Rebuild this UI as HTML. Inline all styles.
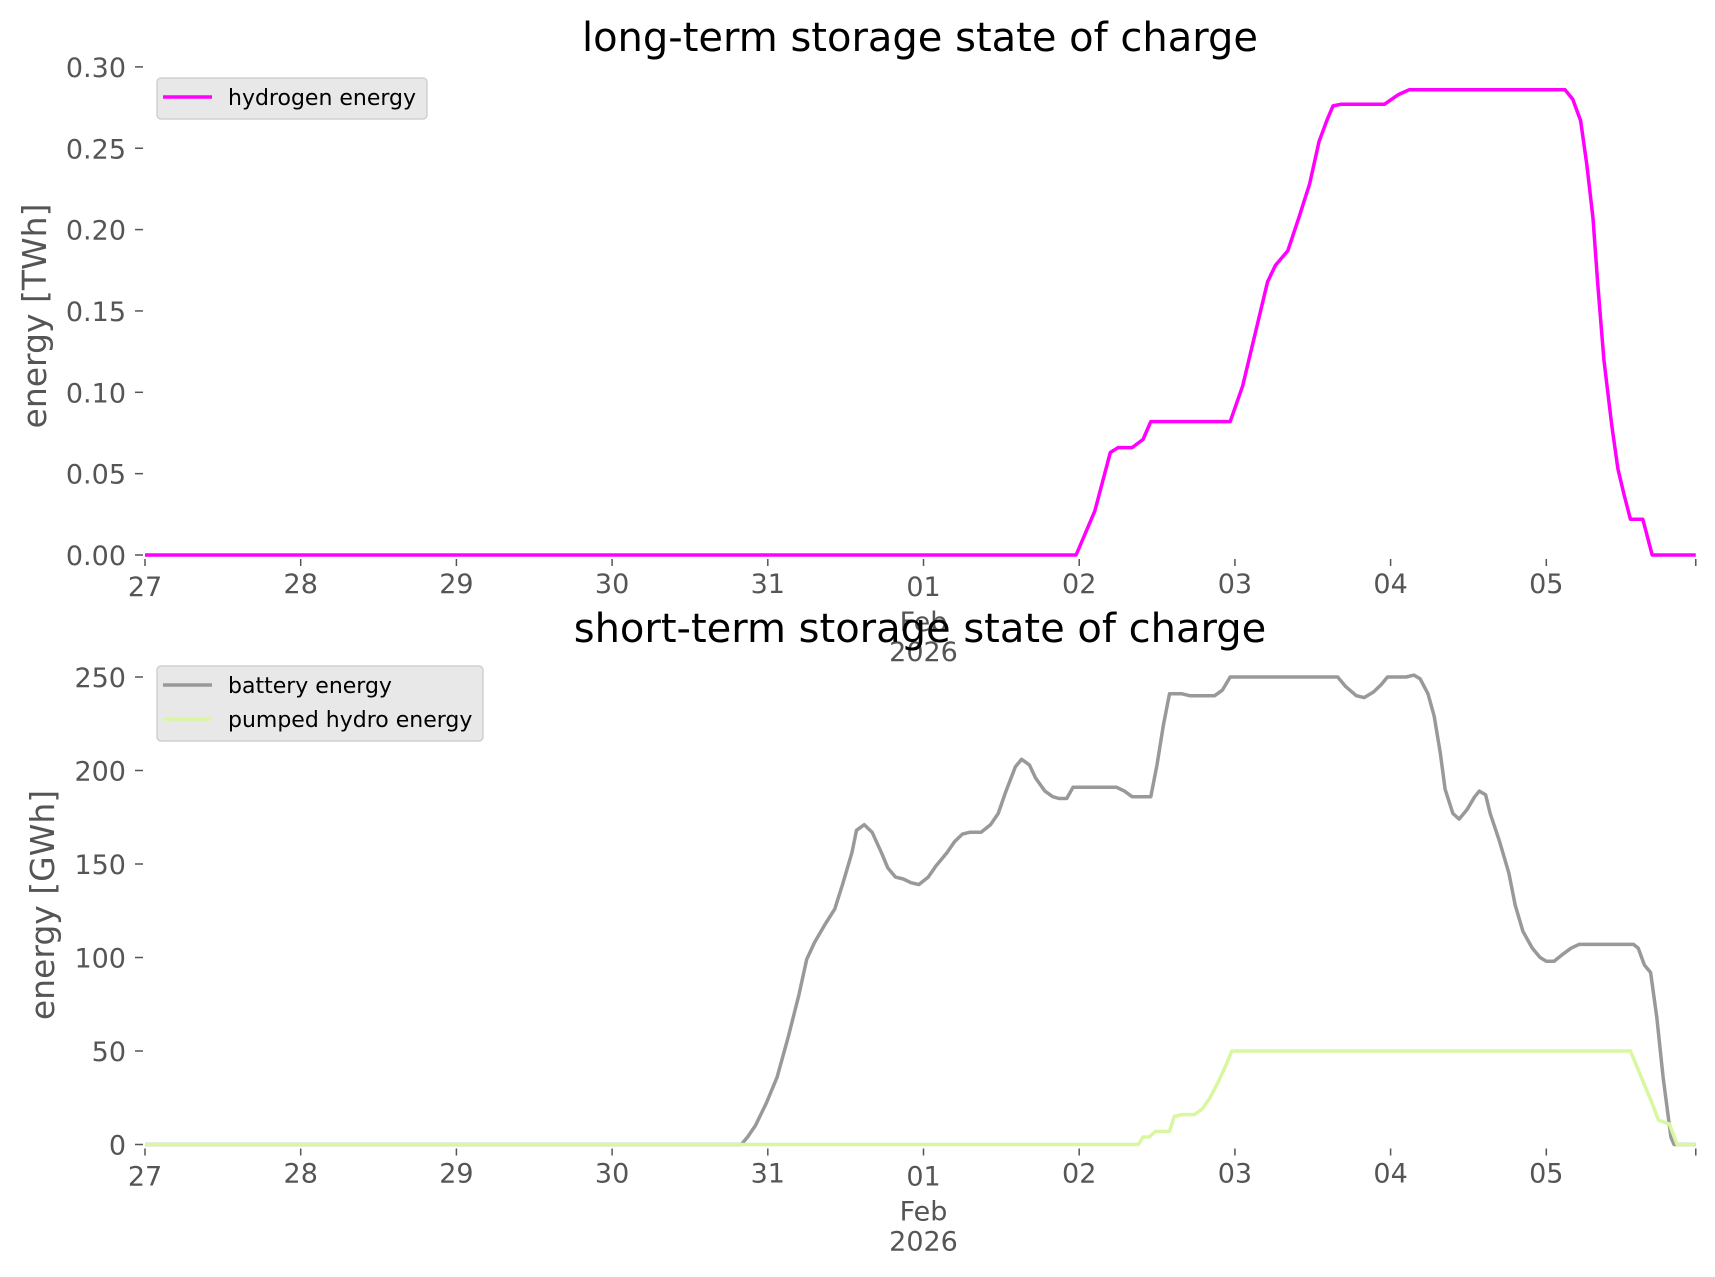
<!DOCTYPE html>
<html><head><meta charset="utf-8"><style>
html,body{margin:0;padding:0;background:#fff;}
svg{display:block;font-family:"DejaVu Sans","Liberation Sans",sans-serif;}
</style></head><body>
<svg id="chart" width="1715" height="1277" viewBox="0 0 1715 1277" xmlns="http://www.w3.org/2000/svg">
<rect width="1715" height="1277" fill="#fff"/>
<g id="top"></g>
<g id="bot"></g>
</svg>
<script>
// x values are days since Jan 27 2026 00:00
const xTickLabels = ["27","28","29","30","31","01","02","03","04","05"];
const xTickDays = [0,1,2,3,4,5,6,7,8,9];
const topYTicks = [0,0.05,0.10,0.15,0.20,0.25,0.30];
const topYTickLabels = ["0.00","0.05","0.10","0.15","0.20","0.25","0.30"];
const botYTicks = [0,50,100,150,200,250];
const botYTickLabels = ["0","50","100","150","200","250"];

const h2Days = [0,5.98,6.10,6.20,6.25,6.34,6.41,6.46,6.97,7.05,7.14,7.21,7.26,7.34,7.41,7.48,7.54,7.59,7.63,7.68,7.96,8.05,8.12,9.12,9.17,9.22,9.26,9.30,9.33,9.37,9.42,9.46,9.50,9.54,9.62,9.68,9.96];
const h2Values = [0,0,0.027,0.063,0.066,0.066,0.071,0.082,0.082,0.104,0.14,0.168,0.178,0.187,0.207,0.228,0.254,0.267,0.276,0.277,0.277,0.283,0.286,0.286,0.28,0.267,0.24,0.207,0.167,0.12,0.08,0.053,0.037,0.022,0.022,0,0];

const batDays = [0,3.83,3.87,3.92,3.99,4.06,4.13,4.20,4.25,4.30,4.37,4.43,4.48,4.54,4.57,4.62,4.67,4.73,4.77,4.82,4.87,4.92,4.97,5.03,5.08,5.15,5.20,5.25,5.30,5.37,5.43,5.48,5.53,5.59,5.63,5.68,5.72,5.78,5.83,5.87,5.92,5.96,6.24,6.29,6.34,6.46,6.50,6.54,6.58,6.66,6.71,6.87,6.92,6.97,7.66,7.71,7.78,7.83,7.89,7.94,7.98,8.10,8.15,8.19,8.24,8.28,8.32,8.35,8.40,8.44,8.49,8.54,8.57,8.61,8.64,8.70,8.76,8.80,8.85,8.91,8.96,9.00,9.05,9.11,9.16,9.21,9.56,9.59,9.63,9.67,9.71,9.75,9.80,9.82,9.96];
const batValues = [0,0,4,10,22,36,57,80,99,108,118,126,139,156,168,171,167,156,148,143,142,140,139,143,149,156,162,166,167,167,171,177,189,202,206,203,196,189,186,185,185,191,191,189,186,186,203,224,241,241,240,240,243,250,250,245,240,239,242,246,250,250,251,249,241,229,209,190,177,174,179,186,189,187,177,162,145,128,114,105,100,98,98,102,105,107,107,105,96,92,68,36,4,0,0];

const phDays = [0,6.38,6.41,6.45,6.49,6.58,6.61,6.66,6.74,6.79,6.84,6.89,6.94,6.98,9.54,9.61,9.68,9.72,9.79,9.84,9.96];
const phValues = [0,0,4,4,7,7,15,16,16,19,25,33,42,50,50,36,22,13,11,0,0];

const NS="http://www.w3.org/2000/svg";
const X0=145, PXD=155.7;
function xs(d){return X0+d*PXD;}
function mk(parent,tag,attrs,text){const e=document.createElementNS(NS,tag);for(const k in attrs)e.setAttribute(k,attrs[k]);if(text!==undefined)e.textContent=text;parent.appendChild(e);return e;}

function panel(g,cfg){
  const t=mk(g,'text',{x:920,y:cfg.titleY,'text-anchor':'middle','font-size':40,fill:'#000'},cfg.title);
  
  
  const yl=mk(g,'text',{transform:`translate(${cfg.ylX},${cfg.ylY}) rotate(-90)`,'text-anchor':'middle','font-size':33,fill:'#555'},cfg.ylabel);
  
  
  cfg.yTicks.forEach((v,i)=>{
    const y=cfg.ys(v);
    const tk=mk(g,'line',{x1:135,x2:143,y1:y,y2:y,stroke:'#555','stroke-width':1.5});
    
    
    const lb=mk(g,'text',{x:126,y:y+10,'text-anchor':'end','font-size':27,fill:'#555'},cfg.yLabels[i]);
    
    
  });
  const z=cfg.ys(0);
  const allDays=xTickDays.concat([9.96]);
  allDays.forEach(d=>{
    const x=xs(d);
    const tk=mk(g,'line',{x1:x,x2:x,y1:z+4,y2:z+11,stroke:'#555','stroke-width':1.5});
    
    
  });
  xTickLabels.forEach((l,i)=>{
    const x=xs(xTickDays[i]);
    const off=(i===0||i===5)?41:38;
    const lb=mk(g,'text',{x:x,y:z+off,'text-anchor':'middle','font-size':27,fill:'#555'},l);
    
    
  });
  const m1=mk(g,'text',{x:xs(5),y:z+76,'text-anchor':'middle','font-size':27,fill:'#555'},'Feb');
  
  
  const m2=mk(g,'text',{x:xs(5),y:z+106,'text-anchor':'middle','font-size':27,fill:'#555'},'2026');
  
  
  cfg.series.forEach(s=>{
    const pts=s.days.map((d,i)=>xs(d).toFixed(1)+','+cfg.ys(s.vals[i]).toFixed(1)).join(' ');
    const p=mk(g,'polyline',{points:pts,fill:'none',stroke:s.color,'stroke-width':3.5,'stroke-linejoin':'round'});
    
    
  });
  const L=cfg.legend;
  const box=mk(g,'rect',{x:157,y:L.y,width:L.w,height:L.h,rx:4,fill:'#e8e8e8',stroke:'#d0d0d0','stroke-width':1.5});
  
  
  cfg.series.forEach((s,i)=>{
    const ly=L.y+19+i*34;
    const ln=mk(g,'line',{x1:163,x2:212,y1:ly,y2:ly,stroke:s.color,'stroke-width':3.5});
    
    
    const lt=mk(g,'text',{x:228,y:ly+8,'font-size':22,fill:'#000'},s.label);
    
    
  });
}

panel(document.getElementById('top'),{
  title:'long-term storage state of charge',titleY:51,ylabel:'energy [TWh]',ylX:46,ylY:316,
  ys:v=>555-v*1627,yTicks:topYTicks,yLabels:topYTickLabels,
  series:[{name:'hydrogen-line',label:'hydrogen energy',color:'#ff00ff',days:h2Days,vals:h2Values}],
  legend:{y:78,w:270,h:41}
});
panel(document.getElementById('bot'),{
  title:'short-term storage state of charge',titleY:642,ylabel:'energy [GWh]',ylX:54,ylY:905,
  ys:v=>1144.5-v*1.87,yTicks:botYTicks,yLabels:botYTickLabels,
  series:[{name:'battery-line',label:'battery energy',color:'#999999',days:batDays,vals:batValues},
          {name:'pumped-hydro-line',label:'pumped hydro energy',color:'#d8f7a0',days:phDays,vals:phValues}],
  legend:{y:666,w:326,h:75}
});
</script>
</body></html>
